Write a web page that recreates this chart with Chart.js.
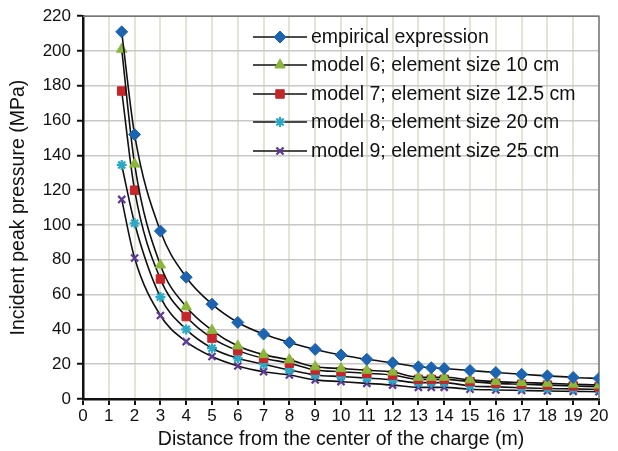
<!DOCTYPE html>
<html>
<head>
<meta charset="utf-8">
<script src="https://cdn.jsdelivr.net/npm/chart.js@4.4.1/dist/chart.umd.min.js"></script>
<style>
  html, body { margin: 0; padding: 0; background: #fff; }
  #wrap { width: 618px; height: 451px; }
</style>
</head>
<body>
<div id="wrap"><canvas id="Chart" width="618" height="451"></canvas></div>
<script>
// distances (m) where values were given
const distances = [1.5, 2, 3, 4, 5, 6, 7, 8, 9, 10, 11, 12, 13, 13.5, 14, 15, 16, 17, 18, 19, 20];

// incident peak pressure (MPa)
const empirical = [211, 152, 96.5, 70, 54.5, 44, 37.3, 32.5, 28.5, 25.3, 22.8, 20.8, 18.5, 18, 17.5, 16.4, 15.2, 14.2, 13.3, 12.4, 11.8];
const model6 = [201, 135, 77, 53, 39.5, 30.5, 25.5, 22.5, 18.5, 17.5, 16.5, 15.5, 12.5, 12.5, 12.5, 11, 10, 9.5, 9, 8.5, 8];
const model7 = [177, 120, 69, 47.4, 35, 27.8, 23.4, 20.6, 16.7, 15.7, 14.8, 13.8, 11.3, 11.3, 11.3, 10, 9, 8.5, 8, 7.5, 7];
const model8 = [134.5, 101, 58.6, 40, 29.2, 23.4, 20, 16.7, 13.8, 12.9, 12, 11, 9.4, 9.4, 9.4, 7.5, 7, 6.5, 6, 5.8, 5.5];
const model9 = [114.7, 81, 48, 33, 24.4, 19, 15.7, 13.8, 11, 10, 9, 8, 6.7, 6.7, 6.7, 5.6, 5.2, 4.9, 4.6, 4.4, 4.2];

const seriesNames = [
    'empirical expression',
    'model 6; element size 10 cm',
    'model 7; element size 12.5 cm',
    'model 8; element size 20 cm',
    'model 9; element size 25 cm'
];

const FONT = "'Liberation Sans', sans-serif";

function toPoints(values) {
    return distances.map((d, i) => ({ x: d, y: values[i] }));
}

function makeSet(label, values, style, color, radius, bw) {
    return {
        label: label,
        data: toPoints(values),
        borderColor: '#111',
        borderWidth: 1.6,
        cubicInterpolationMode: 'monotone',
        pointStyle: style,
        pointRadius: radius,
        pointBackgroundColor: color,
        pointBorderColor: color,
        pointBorderWidth: bw,
        fill: false
    };
}

const datasets = [
    makeSet(seriesNames[0], empirical, 'rectRot', '#1c63b0', 6, 1),
    makeSet(seriesNames[1], model6, 'triangle', '#8bb63c', 6, 1),
    makeSet(seriesNames[2], model7, 'rect', '#c4262a', 6, 1),
    makeSet(seriesNames[3], model8, 'star', '#2aa8c4', 5, 2.2),
    makeSet(seriesNames[4], model9, 'crossRot', '#5b3a94', 5, 2.2)
];

// legend drawn inside the plot area, Excel style
const insideLegend = {
    id: 'insideLegend',
    afterDatasetsDraw(chart) {
        const ctx = chart.ctx;
        const x0 = 253, x1 = 307, tx = 311;
        const rows = [37, 65, 94, 122, 151];
        ctx.save();
        chart.data.datasets.forEach((ds, i) => {
            const y = rows[i];
            ctx.strokeStyle = '#111';
            ctx.lineWidth = 1.6;
            ctx.beginPath();
            ctx.moveTo(x0, y);
            ctx.lineTo(x1, y);
            ctx.stroke();
            ctx.fillStyle = ds.pointBackgroundColor;
            ctx.strokeStyle = ds.pointBorderColor;
            ctx.lineWidth = ds.pointBorderWidth;
            Chart.helpers.drawPoint(ctx, {
                pointStyle: ds.pointStyle,
                rotation: 0,
                radius: ds.pointRadius,
                borderWidth: ds.pointBorderWidth
            }, (x0 + x1) / 2, y);
            ctx.fillStyle = '#111';
            ctx.font = '19.5px ' + FONT;
            ctx.textBaseline = 'middle';
            ctx.textAlign = 'left';
            ctx.fillText(ds.label, tx, y + 1);
        });
        ctx.restore();
    }
};

// grey frame on top and right of the plot
const plotFrame = {
    id: 'plotFrame',
    beforeDatasetsDraw(chart) {
        const a = chart.chartArea;
        const ctx = chart.ctx;
        ctx.save();
        ctx.strokeStyle = '#777';
        ctx.lineWidth = 1.5;
        ctx.beginPath();
        ctx.moveTo(a.left, a.top);
        ctx.lineTo(a.right, a.top);
        ctx.lineTo(a.right, a.bottom);
        ctx.stroke();
        ctx.restore();
    }
};

const ctx = document.getElementById('Chart').getContext('2d');

const chartOptions = {
    type: 'line',
    data: { datasets: datasets },
    options: {
        responsive: false,
        animation: false,
        layout: { padding: { top: 15, right: 19, left: 0, bottom: 0 } },
        plugins: {
            legend: { display: false },
            tooltip: { enabled: false }
        },
        scales: {
            x: {
                type: 'linear',
                min: 0,
                max: 20,
                afterFit: (scale) => { scale.height = 52; },
                ticks: {
                    stepSize: 1,
                    color: '#111',
                    font: { family: FONT, size: 17 },
                    padding: 1
                },
                grid: {
                    color: '#e4e4d6',
                    lineWidth: 2,
                    tickColor: '#111',
                    tickLength: 6,
                    tickWidth: 2
                },
                border: { color: '#111', width: 2.5 },
                title: {
                    display: true,
                    text: 'Distance from the center of the charge (m)',
                    color: '#111',
                    font: { family: FONT, size: 19.5 },
                    padding: { top: 0, bottom: 0 }
                }
            },
            y: {
                min: 0,
                max: 220,
                afterFit: (scale) => { scale.width = 83; },
                ticks: {
                    stepSize: 20,
                    color: '#111',
                    font: { family: FONT, size: 17 },
                    padding: 6
                },
                grid: {
                    color: '#c8c8c8',
                    lineWidth: 1.5,
                    tickColor: '#111',
                    tickLength: 6,
                    tickWidth: 2
                },
                border: { color: '#111', width: 2.5 },
                title: {
                    display: true,
                    text: 'Incident peak pressure (MPa)',
                    color: '#111',
                    font: { family: FONT, size: 19.5 },
                    padding: { top: 7, bottom: 0 }
                }
            }
        }
    },
    plugins: [plotFrame, insideLegend]
};

const myChart = new Chart(ctx, chartOptions);
</script>
</body>
</html>
